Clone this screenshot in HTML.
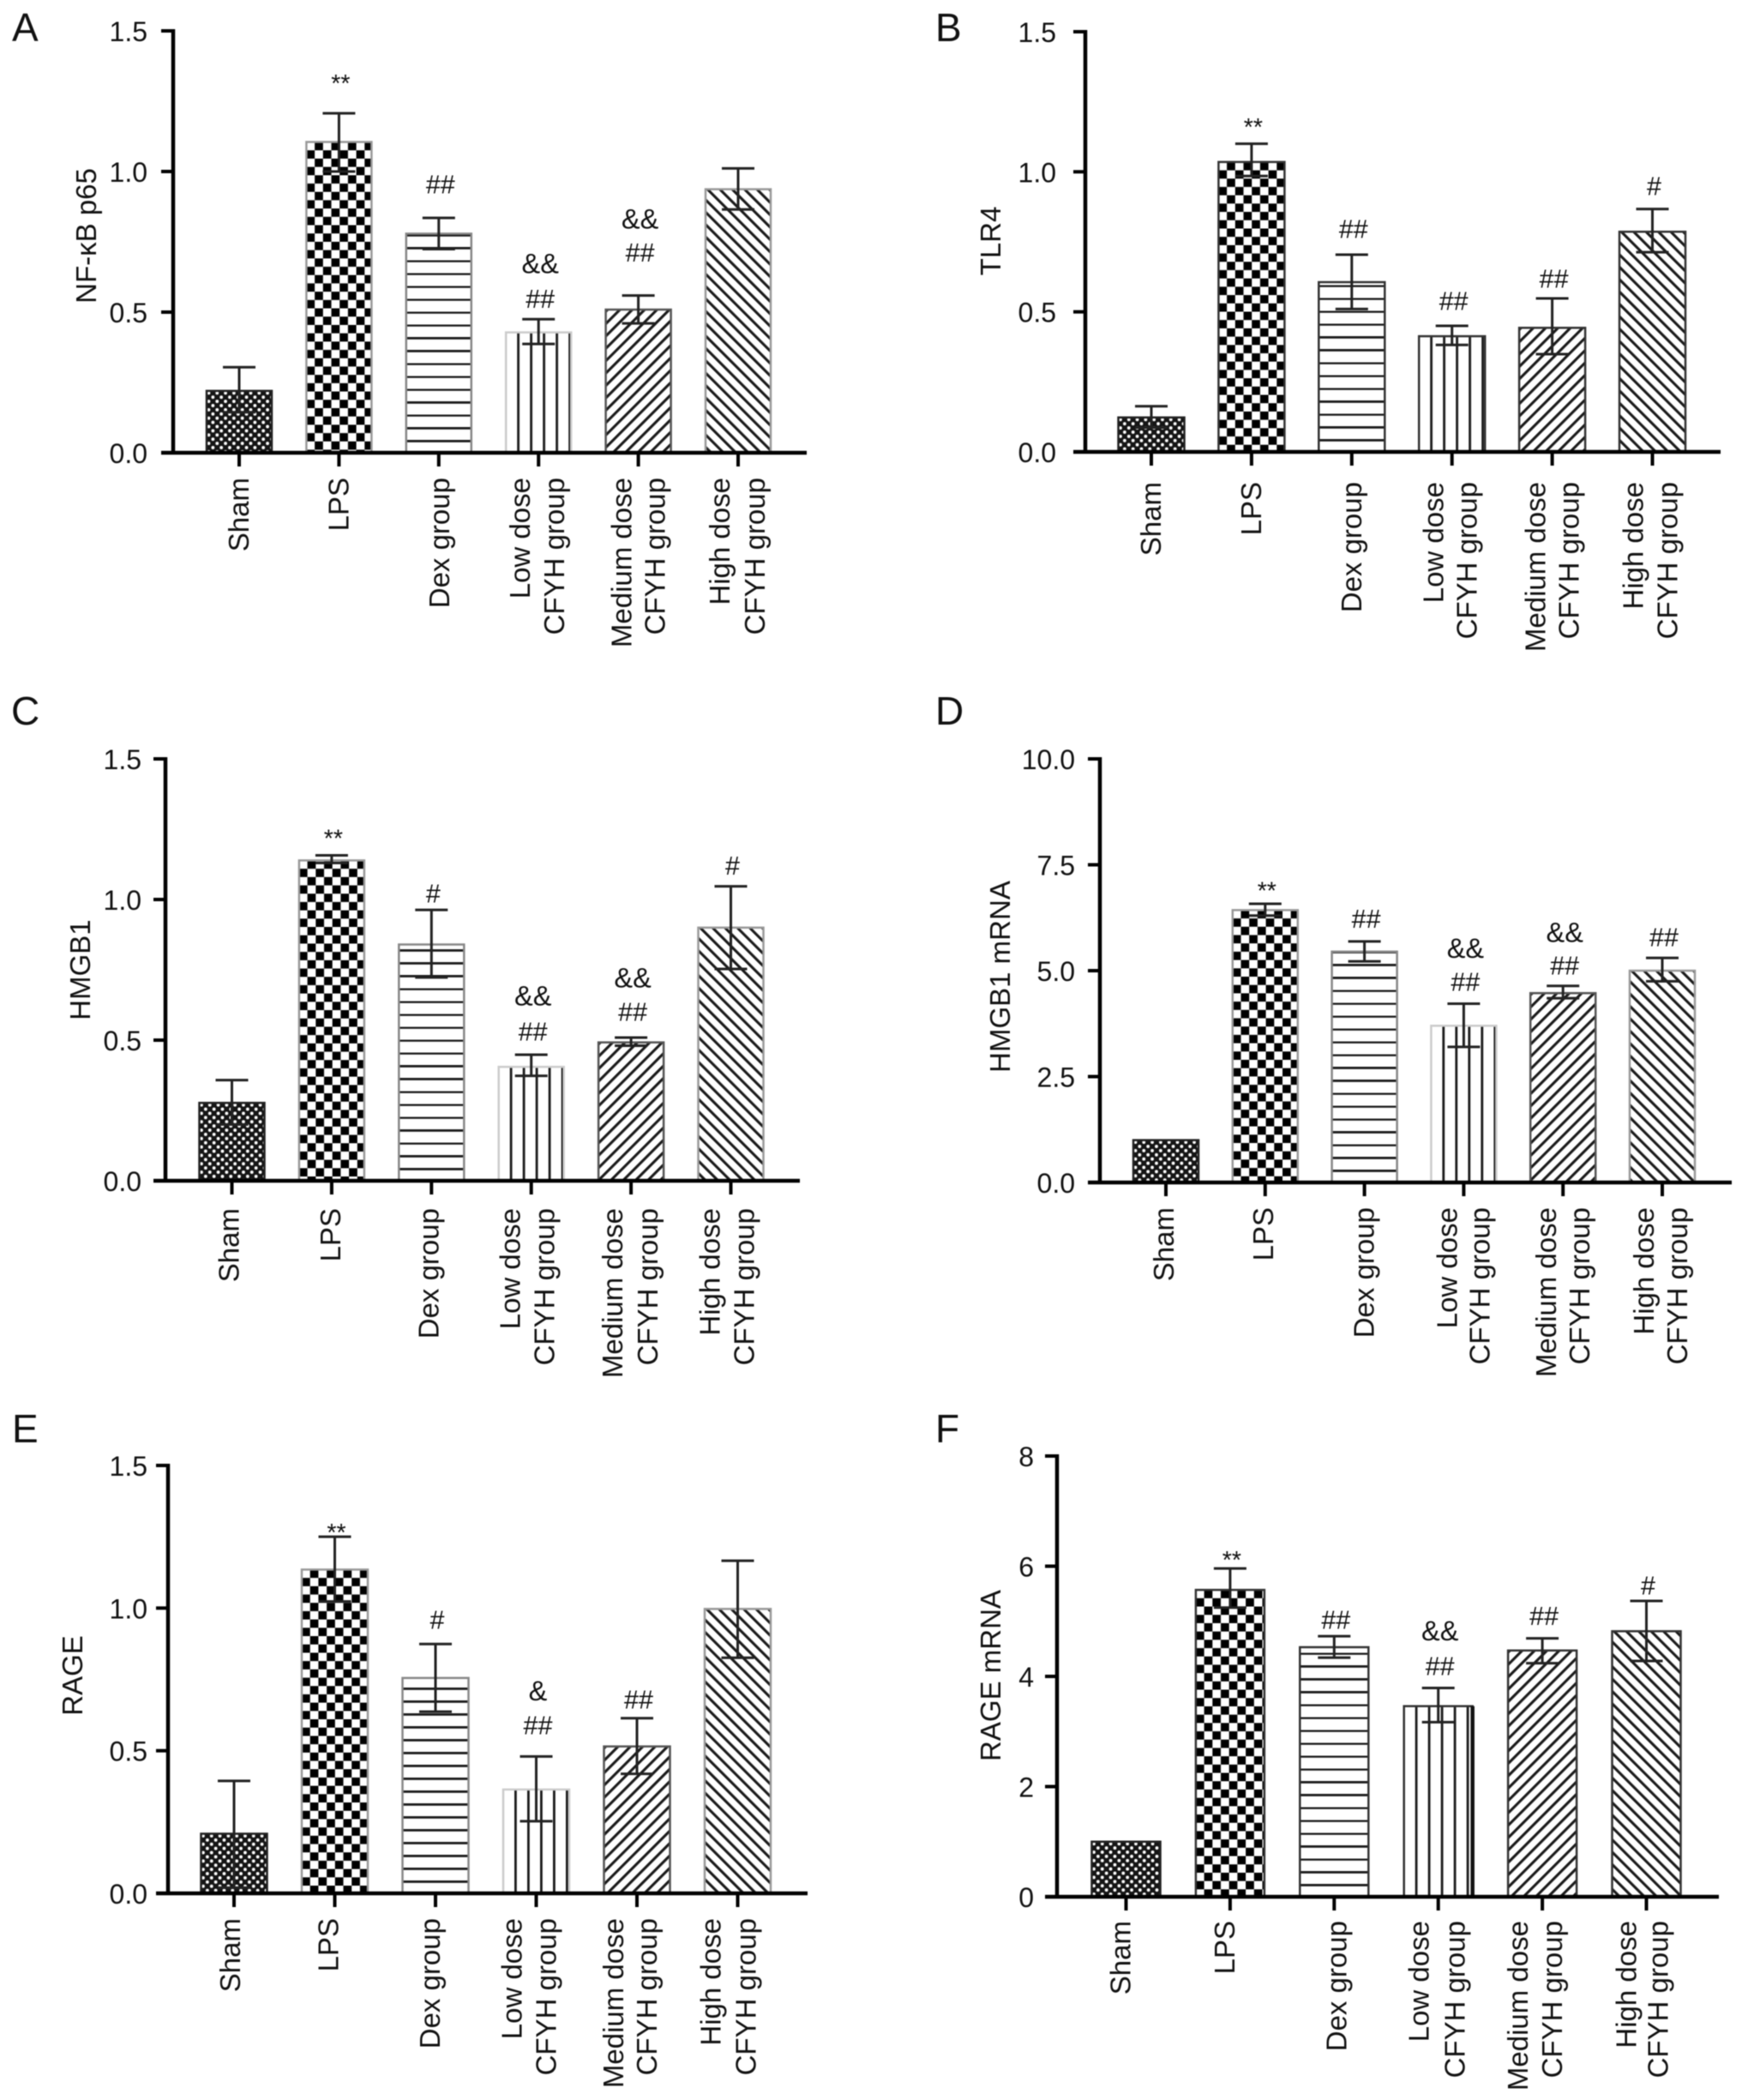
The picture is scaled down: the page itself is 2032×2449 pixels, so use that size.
<!DOCTYPE html>
<html lang="en">
<head>
<meta charset="utf-8">
<title>NF-κB, TLR4, HMGB1 and RAGE expression by treatment group</title>
<style>
html,body{margin:0;padding:0;background:#fff;}
#figure{display:block;width:2032px;height:2449px;filter:blur(0.6px);}
text{font-family:"Liberation Sans",Arial,sans-serif;fill:#111;}
</style>
</head>
<body>
<svg id="figure" xmlns="http://www.w3.org/2000/svg" width="2032" height="2449" viewBox="0 0 2032 2449"><defs id="defs"></defs></svg>
<script>
const categories = [['Sham'], ['LPS'], ['Dex group'], ['Low dose', 'CFYH group'], ['Medium dose', 'CFYH group'], ['High dose', 'CFYH group']];
const categorySlugs = ['sham', 'lps', 'dex', 'low-dose', 'medium-dose', 'high-dose'];

const A_means = [0.22, 1.105, 0.779, 0.428, 0.509, 0.937];
const A_upper = [0.304, 1.207, 0.835, 0.475, 0.559, 1.011];
const A_lower = [0.144, 1.0, 0.724, 0.387, 0.46, 0.865];
const A_ticks = [0, 0.5, 1, 1.5];
const A_tickLabels = ['0.0', '0.5', '1.0', '1.5'];
const A_markerBars = [1, 2, 3, 3, 4, 4];
const A_markerTexts = ['**', '##', '&&', '##', '&&', '##'];
const A_markerLevels = [1.283, 0.923, 0.638, 0.516, 0.797, 0.68];

const B_means = [0.123, 1.035, 0.606, 0.413, 0.443, 0.786];
const B_upper = [0.163, 1.1, 0.704, 0.45, 0.548, 0.867];
const B_lower = [0.087, 0.985, 0.51, 0.382, 0.349, 0.713];
const B_ticks = [0, 0.5, 1, 1.5];
const B_tickLabels = ['0.0', '0.5', '1.0', '1.5'];
const B_markerBars = [1, 2, 3, 4, 5];
const B_markerTexts = ['**', '##', '##', '##', '#'];
const B_markerLevels = [1.13, 0.764, 0.506, 0.586, 0.917];

const C_means = [0.277, 1.139, 0.84, 0.405, 0.492, 0.9];
const C_upper = [0.358, 1.157, 0.963, 0.448, 0.509, 1.047];
const C_lower = [0.2, 1.13, 0.723, 0.373, 0.48, 0.753];
const C_ticks = [0, 0.5, 1, 1.5];
const C_tickLabels = ['0.0', '0.5', '1.0', '1.5'];
const C_markerBars = [1, 2, 3, 3, 4, 4, 5];
const C_markerTexts = ['**', '#', '&&', '##', '&&', '##', '#'];
const C_markerLevels = [1.187, 0.99, 0.623, 0.498, 0.688, 0.568, 1.089];

const D_means = [1, 6.43, 5.45, 3.7, 4.47, 5.0];
const D_upper = [1, 6.58, 5.69, 4.22, 4.64, 5.3];
const D_lower = [1, 6.3, 5.22, 3.2, 4.35, 4.75];
const D_ticks = [0, 2.5, 5, 7.5, 10];
const D_tickLabels = ['0.0', '2.5', '5.0', '7.5', '10.0'];
const D_markerBars = [1, 2, 3, 3, 4, 4, 5];
const D_markerTexts = ['**', '##', '&&', '##', '&&', '##', '##'];
const D_markerLevels = [6.69, 6.01, 5.3, 4.52, 5.68, 4.91, 5.58];

const E_means = [0.209, 1.135, 0.755, 0.364, 0.515, 0.997];
const E_upper = [0.394, 1.25, 0.874, 0.48, 0.614, 1.166];
const E_lower = [0.02, 1.023, 0.637, 0.253, 0.419, 0.826];
const E_ticks = [0, 0.5, 1, 1.5];
const E_tickLabels = ['0.0', '0.5', '1.0', '1.5'];
const E_markerBars = [1, 2, 3, 3, 4];
const E_markerTexts = ['**', '#', '&', '##', '##'];
const E_markerLevels = [1.236, 0.927, 0.676, 0.557, 0.648];

const F_means = [1, 5.57, 4.53, 3.46, 4.47, 4.82];
const F_upper = [1, 5.96, 4.73, 3.79, 4.69, 5.37];
const F_lower = [1, 5.25, 4.34, 3.17, 4.24, 4.28];
const F_ticks = [0, 2, 4, 6, 8];
const F_tickLabels = ['0', '2', '4', '6', '8'];
const F_markerBars = [1, 2, 3, 3, 4, 5];
const F_markerTexts = ['**', '##', '&&', '##', '##', '#'];
const F_markerLevels = [5.96, 4.86, 4.65, 4.02, 4.93, 5.49];

const softOutlines = ['#222', '#999', '#888', '#ccc', '#555', '#999'];
const darkOutlines = ['#222', '#333', '#333', '#333', '#333', '#333'];

const panels = [
  {id:'a', letter:'A', title:'NF-κB p65', means:A_means, upper:A_upper, lower:A_lower, ticks:A_ticks, tickLabels:A_tickLabels, mBars:A_markerBars, mTexts:A_markerTexts, mLevels:A_markerLevels, max:1.5,
   axisX:202, y0:528, yTop:36, first:279, step:116.4, barW:76, right:941, letterX:14, letterY:48, labelGap:30, catTop:29, titleX:112, titleY:275, outlines:softOutlines,
   catShift:[[11],[11],[12],[-10,30],[-8,31],[-10,31]]},
  {id:'b', letter:'B', title:'TLR4', means:B_means, upper:B_upper, lower:B_lower, ticks:B_ticks, tickLabels:B_tickLabels, mBars:B_markerBars, mTexts:B_markerTexts, mLevels:B_markerLevels, max:1.5,
   axisX:1266, y0:527, yTop:37, first:1343, step:116.9, barW:77, right:2007, letterX:1091, letterY:48, labelGap:34, catTop:35, titleX:1167, titleY:281, outlines:darkOutlines,
   catShift:[[11],[11],[11],[-10,29],[-8,31],[-11,29]]},
  {id:'c', letter:'C', title:'HMGB1', means:C_means, upper:C_upper, lower:C_lower, ticks:C_ticks, tickLabels:C_tickLabels, mBars:C_markerBars, mTexts:C_markerTexts, mLevels:C_markerLevels, max:1.5,
   axisX:193, y0:1377, yTop:885, first:270.5, step:116.4, barW:76, right:933, letterX:13, letterY:845, labelGap:28, catTop:32, titleX:105, titleY:1131, outlines:softOutlines,
   catShift:[[8],[10],[8],[-13,27],[-10,31],[-13,27]]},
  {id:'d', letter:'D', title:'HMGB1 mRNA', means:D_means, upper:D_upper, lower:D_lower, ticks:D_ticks, tickLabels:D_tickLabels, mBars:D_markerBars, mTexts:D_markerTexts, mLevels:D_markerLevels, max:10,
   axisX:1283, y0:1379, yTop:885, first:1360, step:115.8, barW:76, right:2020, letterX:1091, letterY:845, labelGap:29, catTop:29, titleX:1178, titleY:1139, outlines:softOutlines,
   catShift:[[9],[9],[11],[-8,30],[-8,31],[-10,29]]},
  {id:'e', letter:'E', title:'RAGE', means:E_means, upper:E_upper, lower:E_lower, ticks:E_ticks, tickLabels:E_tickLabels, mBars:E_markerBars, mTexts:E_markerTexts, mLevels:E_markerLevels, max:1.5,
   axisX:196, y0:2208, yTop:1709, first:273, step:117.5, barW:77, right:942, letterX:14, letterY:1682, labelGap:24, catTop:29, titleX:96, titleY:1954, outlines:softOutlines,
   catShift:[[7],[4],[5],[-17,23],[-16,23],[-20,21]]},
  {id:'f', letter:'F', title:'RAGE mRNA', means:F_means, upper:F_upper, lower:F_lower, ticks:F_ticks, tickLabels:F_tickLabels, mBars:F_markerBars, mTexts:F_markerTexts, mLevels:F_markerLevels, max:8,
   axisX:1233, y0:2212, yTop:1698, first:1313.5, step:121.4, barW:80, right:2005, letterX:1091, letterY:1682, labelGap:27, catTop:28, titleX:1167, titleY:1954, outlines:darkOutlines,
   catShift:[[5],[5],[14],[-11,31],[-17,23],[-12,25]]}
];

const NS = 'http://www.w3.org/2000/svg';
const svg = document.getElementById('figure');
const defs = document.getElementById('defs');

function make(tag, attrs, parent) {
  const n = document.createElementNS(NS, tag);
  for (const k in attrs) n.setAttribute(k, attrs[k]);
  if (parent) parent.appendChild(n);
  return n;
}

function addPattern(id, kind, x, y) {
  const ink = '#1a1a1a';
  if (kind === 0) {
    const p = make('pattern', {id:id, patternUnits:'userSpaceOnUse', x:x, y:y, width:9.8, height:9.8}, defs);
    make('rect', {width:9.8, height:9.8, fill:'#151515'}, p);
    make('circle', {cx:2.45, cy:2.45, r:1.9, fill:'#fff'}, p);
    make('circle', {cx:7.35, cy:7.35, r:1.9, fill:'#fff'}, p);
  } else if (kind === 1) {
    const p = make('pattern', {id:id, patternUnits:'userSpaceOnUse', x:x, y:y, width:19.4, height:19.4}, defs);
    make('rect', {width:19.4, height:19.4, fill:'#fff'}, p);
    make('rect', {x:9.7, y:0, width:9.7, height:9.7, fill:'#000'}, p);
    make('rect', {x:0, y:9.7, width:9.7, height:9.7, fill:'#000'}, p);
  } else if (kind === 2) {
    const p = make('pattern', {id:id, patternUnits:'userSpaceOnUse', x:x, y:y, width:15, height:15}, defs);
    make('rect', {width:15, height:15, fill:'#fff'}, p);
    make('rect', {x:0, y:0, width:15, height:2.8, fill:ink}, p);
  } else if (kind === 3) {
    const p = make('pattern', {id:id, patternUnits:'userSpaceOnUse', x:x + 13, y:y, width:15, height:15}, defs);
    make('rect', {width:15, height:15, fill:'#fff'}, p);
    make('rect', {x:0, y:0, width:2.8, height:15, fill:ink}, p);
  } else {
    const angle = kind === 4 ? 45 : -45;
    const p = make('pattern', {id:id, patternUnits:'userSpaceOnUse', x:x, y:y, width:10.2, height:10.2, patternTransform:'rotate(' + angle + ' ' + x + ' ' + y + ')'}, defs);
    make('rect', {width:10.2, height:10.2, fill:'#fff'}, p);
    make('rect', {x:0, y:0, width:3.1, height:10.2, fill:ink}, p);
  }
}

panels.forEach(function (pn) {
  const yScale = function (v) { return pn.y0 - (v / pn.max) * (pn.y0 - pn.yTop); };
  const xScale = function (i) { return pn.first + i * pn.step; };

  const g = make('g', {}, svg);
  
  

  const letter = make('text', {x:pn.letterX, y:pn.letterY, 'font-size':46}, g);
  letter.textContent = pn.letter;
  
  

  pn.means.forEach(function (v, i) {
    const cx = xScale(i);
    const top = yScale(v);
    const pid = 'pat-' + pn.id + '-' + i;
    addPattern(pid, i, cx - pn.barW / 2, i === 2 ? pn.y0 : top);
    const bar = make('rect', {x:cx - pn.barW / 2, y:top, width:pn.barW, height:pn.y0 - top, fill:'url(#' + pid + ')', stroke:pn.outlines[i], 'stroke-width':2.5}, g);
    
    
    if (pn.id === 'f' && i === 3) {
      const edge = make('line', {x1:cx + pn.barW / 2, x2:cx + pn.barW / 2, y1:top, y2:pn.y0, stroke:'#111', 'stroke-width':4.5}, g);
      
      
    }
  });

  pn.means.forEach(function (v, i) {
    if (pn.upper[i] === pn.lower[i]) return;
    const cx = xScale(i);
    const yu = yScale(pn.upper[i]);
    const yl = yScale(pn.lower[i]);
    const eb = make('path', {d:'M' + (cx - 19) + ' ' + yu + 'H' + (cx + 19) + 'M' + cx + ' ' + yu + 'V' + yl + 'M' + (cx - 19) + ' ' + yl + 'H' + (cx + 19), fill:'none', stroke:'#222', 'stroke-width':3}, g);
    
    
  });

  const yAxis = make('line', {x1:pn.axisX, x2:pn.axisX, y1:pn.yTop - 2, y2:pn.y0, stroke:'#000', 'stroke-width':4.5}, g);
  
  

  const xAxis = make('line', {x1:pn.axisX - 14, x2:pn.right, y1:pn.y0, y2:pn.y0, stroke:'#000', 'stroke-width':4.5}, g);
  
  

  pn.ticks.forEach(function (t, i) {
    const y = yScale(t);
    const tick = make('line', {x1:pn.axisX - 14, x2:pn.axisX, y1:y, y2:y, stroke:'#000', 'stroke-width':4}, g);
    
    
    const label = make('text', {x:pn.axisX - pn.labelGap, y:y + 12, 'font-size':32, 'text-anchor':'end'}, g);
    label.textContent = pn.tickLabels[i];
    
    
  });

  categories.forEach(function (lines, i) {
    const cx = xScale(i);
    const tick = make('line', {x1:cx, x2:cx, y1:pn.y0, y2:pn.y0 + 16, stroke:'#000', 'stroke-width':4}, g);
    
    
    lines.forEach(function (line, j) {
      const bx = cx + pn.catShift[i][j];
      const by = pn.y0 + pn.catTop;
      const label = make('text', {x:bx, y:by, 'font-size':33, 'text-anchor':'end', transform:'rotate(-90 ' + bx + ' ' + by + ')'}, g);
      label.textContent = line;
      
      
    });
  });

  const title = make('text', {x:pn.titleX, y:pn.titleY, 'font-size':33, 'text-anchor':'middle', transform:'rotate(-90 ' + pn.titleX + ' ' + pn.titleY + ')'}, g);
  title.textContent = pn.title;
  
  

  pn.mTexts.forEach(function (txt, i) {
    const size = txt === '**' ? 28.5 : (txt.charAt(0) === '&' ? 32.5 : 30.5);
    const mark = make('text', {x:xScale(pn.mBars[i]) + 2, y:yScale(pn.mLevels[i]), 'font-size':size, 'text-anchor':'middle'}, g);
    mark.textContent = txt;
    
    
  });
});
</script>
</body>
</html>
